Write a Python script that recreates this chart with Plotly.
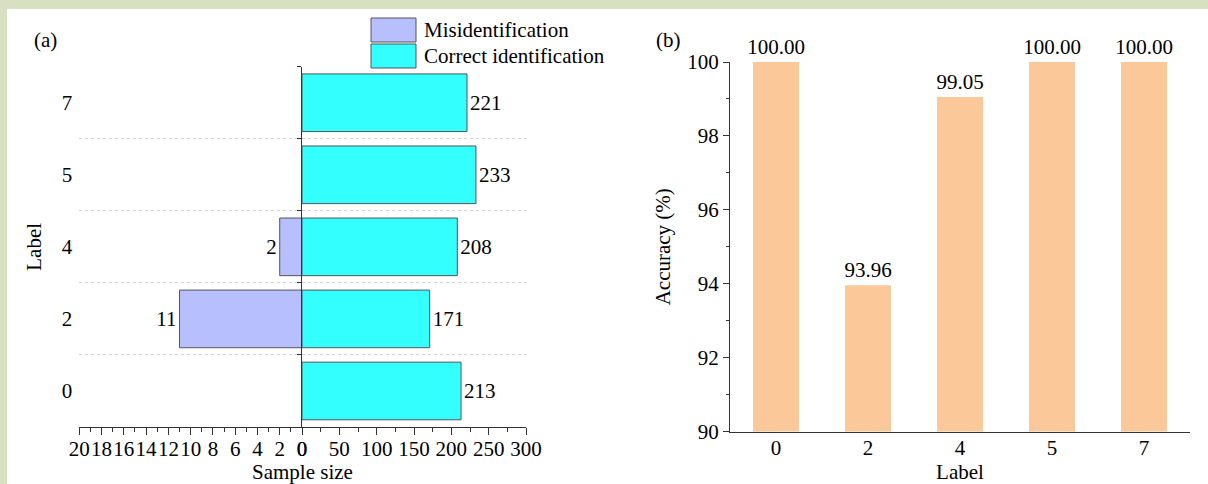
import plotly.graph_objects as go

# ---- data ----
labels = ["0", "2", "4", "5", "7"]
misidentified = [0, 11, 2, 0, 0]
correct = [213, 171, 208, 233, 221]
accuracy = [100.00, 93.96, 99.05, 100.00, 100.00]
series_names = ["Misidentification", "Correct identification"]
series_colors = ["#b8bfff", "#33ffff"]

W, H = 1208, 484
FONT = "Liberation Serif"
FS = 21

def px_x(p):
    return p / W

def px_y(p):
    return (H - p) / H

fig = go.Figure()

fig.add_trace(go.Bar(
    name=series_names[0], y=labels, x=misidentified, orientation="h",
    xaxis="x", yaxis="y", width=0.8, showlegend=False,
    marker=dict(color=series_colors[0], line=dict(color="#555555", width=1)),
    text=[str(v) if v else "" for v in misidentified], textposition="outside",
    constraintext="none",
    textfont=dict(family=FONT, size=FS, color="black"), cliponaxis=False,
))
fig.add_trace(go.Bar(
    name=series_names[1], y=labels, x=correct, orientation="h",
    xaxis="x2", yaxis="y2", width=0.8, showlegend=False,
    marker=dict(color=series_colors[1], line=dict(color="#555555", width=1)),
    text=[str(v) for v in correct], textposition="outside",
    constraintext="none",
    textfont=dict(family=FONT, size=FS, color="black"), cliponaxis=False,
))
fig.add_trace(go.Bar(
    name="Accuracy", x=labels, y=accuracy, xaxis="x3", yaxis="y3", width=0.5,
    marker=dict(color="#fbc899", line=dict(width=0)),
    texttemplate="%{y:.2f}", textposition="outside", constraintext="none",
    textfont=dict(family=FONT, size=FS, color="black"), cliponaxis=False,
    showlegend=False,
))

ydom_a = [px_y(427), px_y(66.7)]
ydom_b = [px_y(431.5), px_y(62)]
axis_common = dict(linecolor="#333333", linewidth=1.3, tickcolor="#333333",
                   automargin=False,
                   tickfont=dict(family=FONT, size=FS, color="black"))

# legend drawn as swatches + text (large rectangular keys like the reference)
legend_shapes = []
legend_annots = []
for i, (nm, col) in enumerate(zip(series_names, series_colors)):
    top = 18 + i * 26
    legend_shapes.append(dict(type="rect", xref="paper", yref="paper",
                              x0=px_x(371), x1=px_x(416), y0=px_y(top + 24), y1=px_y(top),
                              fillcolor=col, line=dict(color="#555555", width=1)))
    legend_annots.append(dict(text=nm, x=px_x(422), y=px_y(top + 12), xref="paper",
                              yref="paper", xanchor="left", yanchor="middle",
                              showarrow=False, font=dict(family=FONT, size=FS)))

fig.update_layout(
    width=W, height=H, margin=dict(l=0, r=0, t=0, b=0, pad=0, autoexpand=False),
    paper_bgcolor="#d9e0c2", plot_bgcolor="white",
    font=dict(family=FONT, size=FS, color="black"),
    barmode="overlay", showlegend=False,
    xaxis=dict(domain=[px_x(79.3), px_x(302)], range=[20, 0], anchor="y",
               tickmode="linear", tick0=0, dtick=2, ticks="outside", ticklen=7,
               tickangle=0, ticklabelstandoff=-4,
               minor=dict(dtick=1, ticks="outside", ticklen=4, tickcolor="#333333"),
               showline=True, showgrid=False, zeroline=False, **axis_common),
    xaxis2=dict(domain=[px_x(302), px_x(526)], range=[0, 300], anchor="y2",
                tickmode="linear", tick0=0, dtick=50, ticks="outside", ticklen=7,
                tickangle=0, ticklabelstandoff=-4,
                minor=dict(dtick=25, ticks="outside", ticklen=4, tickcolor="#333333"),
                showline=True, showgrid=False, zeroline=False, **axis_common),
    yaxis=dict(domain=ydom_a, anchor="x", type="category", categoryarray=labels,
               categoryorder="array", range=[-0.5, 4.5], tickson="boundaries",
               ticks="", showline=False, showgrid=True, gridcolor="#d6d6d6",
               griddash="dot", gridwidth=1, ticklabelstandoff=6,
               title=dict(text="Label", font=dict(family=FONT, size=FS), standoff=14),
               **axis_common),
    yaxis2=dict(domain=ydom_a, anchor="x2", type="category", categoryarray=labels,
                categoryorder="array", range=[-0.5, 4.5], tickson="boundaries",
                ticks="outside", ticklen=4, showticklabels=False, showline=True,
                showgrid=True, gridcolor="#d6d6d6", griddash="dot", gridwidth=1,
                **axis_common),
    xaxis3=dict(domain=[px_x(730), px_x(1190)], anchor="y3", type="category",
                categoryarray=labels, categoryorder="array", range=[-0.5, 4.5],
                ticks="", showline=True, showgrid=False, tickangle=0,
                ticklabelstandoff=-3,
                title=dict(text="Label", font=dict(family=FONT, size=FS), standoff=5),
                **axis_common),
    yaxis3=dict(domain=ydom_b, anchor="x3", range=[90, 100], tickmode="linear",
                tick0=90, dtick=2, ticks="outside", ticklen=6,
                minor=dict(dtick=1, ticks="outside", ticklen=3, tickcolor="#333333"),
                showline=True, showgrid=False, zeroline=False,
                title=dict(text="Accuracy (%)", font=dict(family=FONT, size=FS), standoff=10),
                **axis_common),
    shapes=[dict(type="rect", xref="paper", yref="paper", x0=px_x(7), x1=1,
                 y0=0, y1=px_y(9), fillcolor="white", line=dict(width=0),
                 layer="below")] + legend_shapes,
    annotations=[
        dict(text="(a)", x=px_x(45), y=px_y(40), xref="paper", yref="paper",
             xanchor="center", yanchor="middle",
             showarrow=False, font=dict(family=FONT, size=FS)),
        dict(text="(b)", x=px_x(668), y=px_y(40), xref="paper", yref="paper",
             xanchor="center", yanchor="middle",
             showarrow=False, font=dict(family=FONT, size=FS)),
        dict(text="Sample size", x=px_x(302), y=px_y(472), xref="paper", yref="paper",
             xanchor="center", yanchor="middle",
             showarrow=False, font=dict(family=FONT, size=FS)),
    ] + legend_annots,
)

fig.write_html("out.html")
